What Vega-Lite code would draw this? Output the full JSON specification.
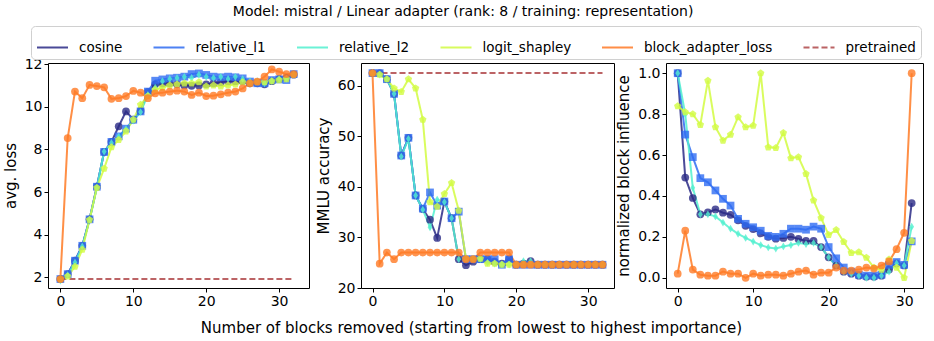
{
"$schema":"https://vega.github.io/schema/vega-lite/v6.json",
"padding":{"left":2,"top":4,"right":5,"bottom":5},
"title":{"text":"Model: mistral / Linear adapter (rank: 8 / training: representation)","fontSize":14,"fontWeight":"normal","font":"DejaVu Sans","color":"black","anchor":"middle","offset":7,"dx":0},
"datasets":{
"loss":[
{"series":"cosine","x":0,"y":1.92},{"series":"cosine","x":1,"y":2.15},{"series":"cosine","x":2,"y":2.78},{"series":"cosine","x":3,"y":3.48},{"series":"cosine","x":4,"y":4.72},{"series":"cosine","x":5,"y":6.25},{"series":"cosine","x":6,"y":7.88},{"series":"cosine","x":7,"y":8.35},{"series":"cosine","x":8,"y":9.08},{"series":"cosine","x":9,"y":9.78},{"series":"cosine","x":10,"y":9.4},{"series":"cosine","x":11,"y":9.8},{"series":"cosine","x":12,"y":10.7},{"series":"cosine","x":13,"y":11.05},{"series":"cosine","x":14,"y":11.1},{"series":"cosine","x":15,"y":11.1},{"series":"cosine","x":16,"y":11.05},{"series":"cosine","x":17,"y":11.0},{"series":"cosine","x":18,"y":10.98},{"series":"cosine","x":19,"y":11.0},{"series":"cosine","x":20,"y":11.05},{"series":"cosine","x":21,"y":11.1},{"series":"cosine","x":22,"y":11.15},{"series":"cosine","x":23,"y":11.2},{"series":"cosine","x":24,"y":11.2},{"series":"cosine","x":25,"y":11.2},{"series":"cosine","x":26,"y":11.1},{"series":"cosine","x":27,"y":11.1},{"series":"cosine","x":28,"y":11.05},{"series":"cosine","x":29,"y":11.2},{"series":"cosine","x":30,"y":11.3},{"series":"cosine","x":31,"y":11.35},{"series":"cosine","x":32,"y":11.5},
{"series":"relative_l1","x":0,"y":1.92},{"series":"relative_l1","x":1,"y":2.15},{"series":"relative_l1","x":2,"y":2.78},{"series":"relative_l1","x":3,"y":3.48},{"series":"relative_l1","x":4,"y":4.72},{"series":"relative_l1","x":5,"y":6.25},{"series":"relative_l1","x":6,"y":7.88},{"series":"relative_l1","x":7,"y":8.35},{"series":"relative_l1","x":8,"y":8.61},{"series":"relative_l1","x":9,"y":8.97},{"series":"relative_l1","x":10,"y":9.39},{"series":"relative_l1","x":11,"y":9.78},{"series":"relative_l1","x":12,"y":10.71},{"series":"relative_l1","x":13,"y":11.22},{"series":"relative_l1","x":14,"y":11.28},{"series":"relative_l1","x":15,"y":11.33},{"series":"relative_l1","x":16,"y":11.36},{"series":"relative_l1","x":17,"y":11.41},{"series":"relative_l1","x":18,"y":11.53},{"series":"relative_l1","x":19,"y":11.56},{"series":"relative_l1","x":20,"y":11.49},{"series":"relative_l1","x":21,"y":11.41},{"series":"relative_l1","x":22,"y":11.38},{"series":"relative_l1","x":23,"y":11.41},{"series":"relative_l1","x":24,"y":11.38},{"series":"relative_l1","x":25,"y":11.33},{"series":"relative_l1","x":26,"y":11.18},{"series":"relative_l1","x":27,"y":11.1},{"series":"relative_l1","x":28,"y":11.1},{"series":"relative_l1","x":29,"y":11.25},{"series":"relative_l1","x":30,"y":11.28},{"series":"relative_l1","x":31,"y":11.25},{"series":"relative_l1","x":32,"y":11.53},
{"series":"relative_l2","x":0,"y":1.85},{"series":"relative_l2","x":1,"y":2.1},{"series":"relative_l2","x":2,"y":2.7},{"series":"relative_l2","x":3,"y":3.45},{"series":"relative_l2","x":4,"y":4.7},{"series":"relative_l2","x":5,"y":6.2},{"series":"relative_l2","x":6,"y":7.9},{"series":"relative_l2","x":7,"y":8.3},{"series":"relative_l2","x":8,"y":8.6},{"series":"relative_l2","x":9,"y":8.95},{"series":"relative_l2","x":10,"y":9.35},{"series":"relative_l2","x":11,"y":9.75},{"series":"relative_l2","x":12,"y":10.55},{"series":"relative_l2","x":13,"y":10.9},{"series":"relative_l2","x":14,"y":11.2},{"series":"relative_l2","x":15,"y":11.3},{"series":"relative_l2","x":16,"y":11.35},{"series":"relative_l2","x":17,"y":11.4},{"series":"relative_l2","x":18,"y":11.35},{"series":"relative_l2","x":19,"y":11.5},{"series":"relative_l2","x":20,"y":11.4},{"series":"relative_l2","x":21,"y":11.35},{"series":"relative_l2","x":22,"y":11.4},{"series":"relative_l2","x":23,"y":11.3},{"series":"relative_l2","x":24,"y":11.4},{"series":"relative_l2","x":25,"y":11.3},{"series":"relative_l2","x":26,"y":11.2},{"series":"relative_l2","x":27,"y":11.2},{"series":"relative_l2","x":28,"y":11.1},{"series":"relative_l2","x":29,"y":11.2},{"series":"relative_l2","x":30,"y":11.3},{"series":"relative_l2","x":31,"y":11.3},{"series":"relative_l2","x":32,"y":11.5},
{"series":"logit_shapley","x":0,"y":1.92},{"series":"logit_shapley","x":1,"y":2.05},{"series":"logit_shapley","x":2,"y":2.5},{"series":"logit_shapley","x":3,"y":3.3},{"series":"logit_shapley","x":4,"y":4.7},{"series":"logit_shapley","x":5,"y":6.2},{"series":"logit_shapley","x":6,"y":7.1},{"series":"logit_shapley","x":7,"y":8.1},{"series":"logit_shapley","x":8,"y":8.45},{"series":"logit_shapley","x":9,"y":8.85},{"series":"logit_shapley","x":10,"y":9.4},{"series":"logit_shapley","x":11,"y":10.1},{"series":"logit_shapley","x":12,"y":10.5},{"series":"logit_shapley","x":13,"y":10.8},{"series":"logit_shapley","x":14,"y":10.9},{"series":"logit_shapley","x":15,"y":11.0},{"series":"logit_shapley","x":16,"y":11.05},{"series":"logit_shapley","x":17,"y":11.1},{"series":"logit_shapley","x":18,"y":11.1},{"series":"logit_shapley","x":19,"y":11.15},{"series":"logit_shapley","x":20,"y":10.95},{"series":"logit_shapley","x":21,"y":11.0},{"series":"logit_shapley","x":22,"y":10.95},{"series":"logit_shapley","x":23,"y":11.0},{"series":"logit_shapley","x":24,"y":11.05},{"series":"logit_shapley","x":25,"y":11.15},{"series":"logit_shapley","x":26,"y":11.1},{"series":"logit_shapley","x":27,"y":11.15},{"series":"logit_shapley","x":28,"y":11.15},{"series":"logit_shapley","x":29,"y":11.2},{"series":"logit_shapley","x":30,"y":11.25},{"series":"logit_shapley","x":31,"y":11.3},{"series":"logit_shapley","x":32,"y":11.5},
{"series":"block_adapter_loss","x":0,"y":1.92},{"series":"block_adapter_loss","x":1,"y":8.53},{"series":"block_adapter_loss","x":2,"y":10.71},{"series":"block_adapter_loss","x":3,"y":10.4},{"series":"block_adapter_loss","x":4,"y":11.02},{"series":"block_adapter_loss","x":5,"y":10.97},{"series":"block_adapter_loss","x":6,"y":10.91},{"series":"block_adapter_loss","x":7,"y":10.37},{"series":"block_adapter_loss","x":8,"y":10.4},{"series":"block_adapter_loss","x":9,"y":10.5},{"series":"block_adapter_loss","x":10,"y":10.74},{"series":"block_adapter_loss","x":11,"y":10.66},{"series":"block_adapter_loss","x":12,"y":10.4},{"series":"block_adapter_loss","x":13,"y":10.63},{"series":"block_adapter_loss","x":14,"y":10.66},{"series":"block_adapter_loss","x":15,"y":10.71},{"series":"block_adapter_loss","x":16,"y":10.75},{"series":"block_adapter_loss","x":17,"y":10.71},{"series":"block_adapter_loss","x":18,"y":10.55},{"series":"block_adapter_loss","x":19,"y":10.66},{"series":"block_adapter_loss","x":20,"y":10.5},{"series":"block_adapter_loss","x":21,"y":10.52},{"series":"block_adapter_loss","x":22,"y":10.58},{"series":"block_adapter_loss","x":23,"y":10.66},{"series":"block_adapter_loss","x":24,"y":10.71},{"series":"block_adapter_loss","x":25,"y":10.86},{"series":"block_adapter_loss","x":26,"y":11.1},{"series":"block_adapter_loss","x":27,"y":11.18},{"series":"block_adapter_loss","x":28,"y":11.41},{"series":"block_adapter_loss","x":29,"y":11.75},{"series":"block_adapter_loss","x":30,"y":11.64},{"series":"block_adapter_loss","x":31,"y":11.53},{"series":"block_adapter_loss","x":32,"y":11.53},
{"series":"pretrained","x":0,"y":1.92},{"series":"pretrained","x":32,"y":1.92}
],
"mmlu":[
{"series":"cosine","x":0,"y":62.5},{"series":"cosine","x":1,"y":62.5},{"series":"cosine","x":2,"y":61.3},{"series":"cosine","x":3,"y":58.4},{"series":"cosine","x":4,"y":46.2},{"series":"cosine","x":5,"y":49.7},{"series":"cosine","x":6,"y":38.3},{"series":"cosine","x":7,"y":35.6},{"series":"cosine","x":8,"y":33.5},{"series":"cosine","x":9,"y":29.9},{"series":"cosine","x":10,"y":37.1},{"series":"cosine","x":11,"y":33.8},{"series":"cosine","x":12,"y":25.7},{"series":"cosine","x":13,"y":24.5},{"series":"cosine","x":14,"y":25.2},{"series":"cosine","x":15,"y":25.7},{"series":"cosine","x":16,"y":25.7},{"series":"cosine","x":17,"y":25.2},{"series":"cosine","x":18,"y":24.8},{"series":"cosine","x":19,"y":25.7},{"series":"cosine","x":20,"y":24.6},{"series":"cosine","x":21,"y":24.8},{"series":"cosine","x":22,"y":25.3},{"series":"cosine","x":23,"y":24.6},{"series":"cosine","x":24,"y":24.6},{"series":"cosine","x":25,"y":24.6},{"series":"cosine","x":26,"y":24.6},{"series":"cosine","x":27,"y":24.6},{"series":"cosine","x":28,"y":24.6},{"series":"cosine","x":29,"y":24.6},{"series":"cosine","x":30,"y":24.6},{"series":"cosine","x":31,"y":24.6},{"series":"cosine","x":32,"y":24.6},
{"series":"relative_l1","x":0,"y":62.5},{"series":"relative_l1","x":1,"y":62.5},{"series":"relative_l1","x":2,"y":61.3},{"series":"relative_l1","x":3,"y":58.4},{"series":"relative_l1","x":4,"y":46.2},{"series":"relative_l1","x":5,"y":49.7},{"series":"relative_l1","x":6,"y":38.3},{"series":"relative_l1","x":7,"y":35.7},{"series":"relative_l1","x":8,"y":38.9},{"series":"relative_l1","x":9,"y":36.3},{"series":"relative_l1","x":10,"y":37.1},{"series":"relative_l1","x":11,"y":33.8},{"series":"relative_l1","x":12,"y":35.1},{"series":"relative_l1","x":13,"y":25.7},{"series":"relative_l1","x":14,"y":25.7},{"series":"relative_l1","x":15,"y":25.7},{"series":"relative_l1","x":16,"y":25.7},{"series":"relative_l1","x":17,"y":25.7},{"series":"relative_l1","x":18,"y":24.6},{"series":"relative_l1","x":19,"y":25.7},{"series":"relative_l1","x":20,"y":24.6},{"series":"relative_l1","x":21,"y":24.6},{"series":"relative_l1","x":22,"y":24.6},{"series":"relative_l1","x":23,"y":24.6},{"series":"relative_l1","x":24,"y":24.6},{"series":"relative_l1","x":25,"y":24.6},{"series":"relative_l1","x":26,"y":24.6},{"series":"relative_l1","x":27,"y":24.6},{"series":"relative_l1","x":28,"y":24.6},{"series":"relative_l1","x":29,"y":24.6},{"series":"relative_l1","x":30,"y":24.6},{"series":"relative_l1","x":31,"y":24.6},{"series":"relative_l1","x":32,"y":24.6},
{"series":"relative_l2","x":0,"y":62.5},{"series":"relative_l2","x":1,"y":62.2},{"series":"relative_l2","x":2,"y":61.3},{"series":"relative_l2","x":3,"y":58.4},{"series":"relative_l2","x":4,"y":46.0},{"series":"relative_l2","x":5,"y":49.5},{"series":"relative_l2","x":6,"y":38.3},{"series":"relative_l2","x":7,"y":35.5},{"series":"relative_l2","x":8,"y":32.0},{"series":"relative_l2","x":9,"y":37.5},{"series":"relative_l2","x":10,"y":37.0},{"series":"relative_l2","x":11,"y":33.8},{"series":"relative_l2","x":12,"y":25.7},{"series":"relative_l2","x":13,"y":25.7},{"series":"relative_l2","x":14,"y":25.7},{"series":"relative_l2","x":15,"y":25.7},{"series":"relative_l2","x":16,"y":25.0},{"series":"relative_l2","x":17,"y":24.8},{"series":"relative_l2","x":18,"y":24.6},{"series":"relative_l2","x":19,"y":24.6},{"series":"relative_l2","x":20,"y":24.6},{"series":"relative_l2","x":21,"y":25.3},{"series":"relative_l2","x":22,"y":25.3},{"series":"relative_l2","x":23,"y":24.6},{"series":"relative_l2","x":24,"y":24.6},{"series":"relative_l2","x":25,"y":24.6},{"series":"relative_l2","x":26,"y":24.6},{"series":"relative_l2","x":27,"y":24.6},{"series":"relative_l2","x":28,"y":24.6},{"series":"relative_l2","x":29,"y":24.6},{"series":"relative_l2","x":30,"y":24.6},{"series":"relative_l2","x":31,"y":24.6},{"series":"relative_l2","x":32,"y":24.6},
{"series":"logit_shapley","x":0,"y":62.5},{"series":"logit_shapley","x":1,"y":62.2},{"series":"logit_shapley","x":2,"y":61.3},{"series":"logit_shapley","x":3,"y":59.5},{"series":"logit_shapley","x":4,"y":58.8},{"series":"logit_shapley","x":5,"y":61.3},{"series":"logit_shapley","x":6,"y":59.5},{"series":"logit_shapley","x":7,"y":53.3},{"series":"logit_shapley","x":8,"y":37.0},{"series":"logit_shapley","x":9,"y":36.1},{"series":"logit_shapley","x":10,"y":38.6},{"series":"logit_shapley","x":11,"y":40.8},{"series":"logit_shapley","x":12,"y":35.3},{"series":"logit_shapley","x":13,"y":25.8},{"series":"logit_shapley","x":14,"y":25.7},{"series":"logit_shapley","x":15,"y":25.8},{"series":"logit_shapley","x":16,"y":24.8},{"series":"logit_shapley","x":17,"y":24.8},{"series":"logit_shapley","x":18,"y":24.6},{"series":"logit_shapley","x":19,"y":24.6},{"series":"logit_shapley","x":20,"y":24.6},{"series":"logit_shapley","x":21,"y":24.6},{"series":"logit_shapley","x":22,"y":24.6},{"series":"logit_shapley","x":23,"y":24.6},{"series":"logit_shapley","x":24,"y":24.6},{"series":"logit_shapley","x":25,"y":24.6},{"series":"logit_shapley","x":26,"y":24.6},{"series":"logit_shapley","x":27,"y":24.6},{"series":"logit_shapley","x":28,"y":24.6},{"series":"logit_shapley","x":29,"y":24.6},{"series":"logit_shapley","x":30,"y":24.6},{"series":"logit_shapley","x":31,"y":24.6},{"series":"logit_shapley","x":32,"y":24.6},
{"series":"block_adapter_loss","x":0,"y":62.5},{"series":"block_adapter_loss","x":1,"y":24.8},{"series":"block_adapter_loss","x":2,"y":27.0},{"series":"block_adapter_loss","x":3,"y":25.7},{"series":"block_adapter_loss","x":4,"y":27.0},{"series":"block_adapter_loss","x":5,"y":27.0},{"series":"block_adapter_loss","x":6,"y":27.0},{"series":"block_adapter_loss","x":7,"y":27.0},{"series":"block_adapter_loss","x":8,"y":27.0},{"series":"block_adapter_loss","x":9,"y":27.0},{"series":"block_adapter_loss","x":10,"y":27.0},{"series":"block_adapter_loss","x":11,"y":27.0},{"series":"block_adapter_loss","x":12,"y":27.0},{"series":"block_adapter_loss","x":13,"y":25.7},{"series":"block_adapter_loss","x":14,"y":25.7},{"series":"block_adapter_loss","x":15,"y":27.0},{"series":"block_adapter_loss","x":16,"y":27.0},{"series":"block_adapter_loss","x":17,"y":27.0},{"series":"block_adapter_loss","x":18,"y":27.0},{"series":"block_adapter_loss","x":19,"y":27.0},{"series":"block_adapter_loss","x":20,"y":24.6},{"series":"block_adapter_loss","x":21,"y":24.6},{"series":"block_adapter_loss","x":22,"y":24.6},{"series":"block_adapter_loss","x":23,"y":24.6},{"series":"block_adapter_loss","x":24,"y":24.6},{"series":"block_adapter_loss","x":25,"y":24.6},{"series":"block_adapter_loss","x":26,"y":24.6},{"series":"block_adapter_loss","x":27,"y":24.6},{"series":"block_adapter_loss","x":28,"y":24.6},{"series":"block_adapter_loss","x":29,"y":24.6},{"series":"block_adapter_loss","x":30,"y":24.6},{"series":"block_adapter_loss","x":31,"y":24.6},{"series":"block_adapter_loss","x":32,"y":24.6},
{"series":"pretrained","x":0,"y":62.5},{"series":"pretrained","x":32,"y":62.5}
],
"infl":[
{"series":"cosine","x":0,"y":1.0},{"series":"cosine","x":1,"y":0.49},{"series":"cosine","x":2,"y":0.39},{"series":"cosine","x":3,"y":0.31},{"series":"cosine","x":4,"y":0.32},{"series":"cosine","x":5,"y":0.334},{"series":"cosine","x":6,"y":0.318},{"series":"cosine","x":7,"y":0.308},{"series":"cosine","x":8,"y":0.281},{"series":"cosine","x":9,"y":0.254},{"series":"cosine","x":10,"y":0.238},{"series":"cosine","x":11,"y":0.217},{"series":"cosine","x":12,"y":0.2},{"series":"cosine","x":13,"y":0.191},{"series":"cosine","x":14,"y":0.195},{"series":"cosine","x":15,"y":0.2},{"series":"cosine","x":16,"y":0.19},{"series":"cosine","x":17,"y":0.18},{"series":"cosine","x":18,"y":0.18},{"series":"cosine","x":19,"y":0.15},{"series":"cosine","x":20,"y":0.1},{"series":"cosine","x":21,"y":0.06},{"series":"cosine","x":22,"y":0.03},{"series":"cosine","x":23,"y":0.02},{"series":"cosine","x":24,"y":0.01},{"series":"cosine","x":25,"y":0.005},{"series":"cosine","x":26,"y":0.005},{"series":"cosine","x":27,"y":0.01},{"series":"cosine","x":28,"y":0.04},{"series":"cosine","x":29,"y":0.07},{"series":"cosine","x":30,"y":0.06},{"series":"cosine","x":31,"y":0.365},
{"series":"relative_l1","x":0,"y":1.0},{"series":"relative_l1","x":1,"y":0.70},{"series":"relative_l1","x":2,"y":0.59},{"series":"relative_l1","x":3,"y":0.487},{"series":"relative_l1","x":4,"y":0.467},{"series":"relative_l1","x":5,"y":0.427},{"series":"relative_l1","x":6,"y":0.386},{"series":"relative_l1","x":7,"y":0.353},{"series":"relative_l1","x":8,"y":0.288},{"series":"relative_l1","x":9,"y":0.264},{"series":"relative_l1","x":10,"y":0.247},{"series":"relative_l1","x":11,"y":0.23},{"series":"relative_l1","x":12,"y":0.205},{"series":"relative_l1","x":13,"y":0.2},{"series":"relative_l1","x":14,"y":0.215},{"series":"relative_l1","x":15,"y":0.24},{"series":"relative_l1","x":16,"y":0.24},{"series":"relative_l1","x":17,"y":0.235},{"series":"relative_l1","x":18,"y":0.25},{"series":"relative_l1","x":19,"y":0.24},{"series":"relative_l1","x":20,"y":0.15},{"series":"relative_l1","x":21,"y":0.095},{"series":"relative_l1","x":22,"y":0.05},{"series":"relative_l1","x":23,"y":0.03},{"series":"relative_l1","x":24,"y":0.015},{"series":"relative_l1","x":25,"y":0.01},{"series":"relative_l1","x":26,"y":0.01},{"series":"relative_l1","x":27,"y":0.015},{"series":"relative_l1","x":28,"y":0.063},{"series":"relative_l1","x":29,"y":0.077},{"series":"relative_l1","x":30,"y":0.063},{"series":"relative_l1","x":31,"y":0.178},
{"series":"relative_l2","x":0,"y":1.0},{"series":"relative_l2","x":1,"y":0.8},{"series":"relative_l2","x":2,"y":0.44},{"series":"relative_l2","x":3,"y":0.31},{"series":"relative_l2","x":4,"y":0.31},{"series":"relative_l2","x":5,"y":0.3},{"series":"relative_l2","x":6,"y":0.27},{"series":"relative_l2","x":7,"y":0.24},{"series":"relative_l2","x":8,"y":0.215},{"series":"relative_l2","x":9,"y":0.195},{"series":"relative_l2","x":10,"y":0.177},{"series":"relative_l2","x":11,"y":0.16},{"series":"relative_l2","x":12,"y":0.148},{"series":"relative_l2","x":13,"y":0.143},{"series":"relative_l2","x":14,"y":0.153},{"series":"relative_l2","x":15,"y":0.16},{"series":"relative_l2","x":16,"y":0.17},{"series":"relative_l2","x":17,"y":0.165},{"series":"relative_l2","x":18,"y":0.17},{"series":"relative_l2","x":19,"y":0.15},{"series":"relative_l2","x":20,"y":0.1},{"series":"relative_l2","x":21,"y":0.06},{"series":"relative_l2","x":22,"y":0.03},{"series":"relative_l2","x":23,"y":0.02},{"series":"relative_l2","x":24,"y":0.01},{"series":"relative_l2","x":25,"y":0.0},{"series":"relative_l2","x":26,"y":0.0},{"series":"relative_l2","x":27,"y":0.01},{"series":"relative_l2","x":28,"y":0.03},{"series":"relative_l2","x":29,"y":0.07},{"series":"relative_l2","x":30,"y":0.06},{"series":"relative_l2","x":31,"y":0.25},
{"series":"logit_shapley","x":0,"y":0.839},{"series":"logit_shapley","x":1,"y":0.81},{"series":"logit_shapley","x":2,"y":0.80},{"series":"logit_shapley","x":3,"y":0.748},{"series":"logit_shapley","x":4,"y":0.964},{"series":"logit_shapley","x":5,"y":0.736},{"series":"logit_shapley","x":6,"y":0.671},{"series":"logit_shapley","x":7,"y":0.70},{"series":"logit_shapley","x":8,"y":0.785},{"series":"logit_shapley","x":9,"y":0.736},{"series":"logit_shapley","x":10,"y":0.744},{"series":"logit_shapley","x":11,"y":1.0},{"series":"logit_shapley","x":12,"y":0.638},{"series":"logit_shapley","x":13,"y":0.635},{"series":"logit_shapley","x":14,"y":0.708},{"series":"logit_shapley","x":15,"y":0.585},{"series":"logit_shapley","x":16,"y":0.59},{"series":"logit_shapley","x":17,"y":0.508},{"series":"logit_shapley","x":18,"y":0.378},{"series":"logit_shapley","x":19,"y":0.292},{"series":"logit_shapley","x":20,"y":0.21},{"series":"logit_shapley","x":21,"y":0.234},{"series":"logit_shapley","x":22,"y":0.175},{"series":"logit_shapley","x":23,"y":0.122},{"series":"logit_shapley","x":24,"y":0.125},{"series":"logit_shapley","x":25,"y":0.098},{"series":"logit_shapley","x":26,"y":0.05},{"series":"logit_shapley","x":27,"y":0.04},{"series":"logit_shapley","x":28,"y":0.09},{"series":"logit_shapley","x":29,"y":0.05},{"series":"logit_shapley","x":30,"y":0.0},{"series":"logit_shapley","x":31,"y":0.18},
{"series":"block_adapter_loss","x":0,"y":0.02},{"series":"block_adapter_loss","x":1,"y":0.23},{"series":"block_adapter_loss","x":2,"y":0.04},{"series":"block_adapter_loss","x":3,"y":0.015},{"series":"block_adapter_loss","x":4,"y":0.01},{"series":"block_adapter_loss","x":5,"y":0.01},{"series":"block_adapter_loss","x":6,"y":0.03},{"series":"block_adapter_loss","x":7,"y":0.02},{"series":"block_adapter_loss","x":8,"y":0.02},{"series":"block_adapter_loss","x":9,"y":0.0},{"series":"block_adapter_loss","x":10,"y":0.02},{"series":"block_adapter_loss","x":11,"y":0.01},{"series":"block_adapter_loss","x":12,"y":0.015},{"series":"block_adapter_loss","x":13,"y":0.015},{"series":"block_adapter_loss","x":14,"y":0.01},{"series":"block_adapter_loss","x":15,"y":0.02},{"series":"block_adapter_loss","x":16,"y":0.03},{"series":"block_adapter_loss","x":17,"y":0.035},{"series":"block_adapter_loss","x":18,"y":0.015},{"series":"block_adapter_loss","x":19,"y":0.025},{"series":"block_adapter_loss","x":20,"y":0.025},{"series":"block_adapter_loss","x":21,"y":0.05},{"series":"block_adapter_loss","x":22,"y":0.035},{"series":"block_adapter_loss","x":23,"y":0.035},{"series":"block_adapter_loss","x":24,"y":0.04},{"series":"block_adapter_loss","x":25,"y":0.05},{"series":"block_adapter_loss","x":26,"y":0.045},{"series":"block_adapter_loss","x":27,"y":0.06},{"series":"block_adapter_loss","x":28,"y":0.08},{"series":"block_adapter_loss","x":29,"y":0.14},{"series":"block_adapter_loss","x":30,"y":0.22},{"series":"block_adapter_loss","x":31,"y":1.0}
]
},
"spacing":52,
"bounds":"flush",
"resolve":{"scale":{"color":"shared","shape":"shared","strokeDash":"shared"}},
"hconcat":[
{
"width":261,"height":225,
"data":{"name":"loss"},
"layer":[
{"mark":{"type":"line","strokeWidth":2,"opacity":0.85},
"encoding":{
"x":{"field":"x","type":"quantitative","scale":{"domain":[-1.7,34.1],"nice":false,"zero":false},"axis":{"values":[0,10,20,30],"title":null}},
"y":{"field":"y","type":"quantitative","scale":{"domain":[1.5,12.05],"nice":false,"zero":false},"axis":{"values":[2,4,6,8,10,12],"title":"avg. loss"}},
"color":{"field":"series","type":"nominal","scale":{"domain":["cosine","relative_l1","relative_l2","logit_shapley","block_adapter_loss","pretrained"],"range":["#2a2a86","#2f6df2","#52f0cf","#d2fb42","#ff7b26","#b0484a"]},
"legend":{"orient":"none","legendX":-17,"legendY":-37,"direction":"horizontal","columns":6,"title":null,"symbolType":"M-1,0H1","symbolSize":961,"symbolStrokeWidth":2,"labelFontSize":13.5,"labelFont":"DejaVu Sans","labelColor":"black","labelOffset":10,"columnPadding":26.5,"padding":5,"strokeColor":"#d0d0d0","cornerRadius":4,"fillColor":"white",
"encode":{"symbols":{"update":{"shape":{"signal":"datum.value === 'pretrained' ? 'M-1,0H1' : 'M-1,0H1M-0.22,0a0.22,0.22 0 1,0 0.44,0a0.22,0.22 0 1,0 -0.44,0'"},"fill":[{"test":"datum.value === 'pretrained'","value":"transparent"},{"scale":"color","field":"value"}],"strokeDash":[{"test":"datum.value === 'pretrained'","value":[5,3]},{"value":[1,0]}],"opacity":{"value":0.85}}}}}},
"strokeDash":{"field":"series","type":"nominal","scale":{"domain":["cosine","relative_l1","relative_l2","logit_shapley","block_adapter_loss","pretrained"],"range":[[1,0],[1,0],[1,0],[1,0],[1,0],[6,3]]},"legend":null}
}},
{"transform":[{"filter":"datum.series !== 'pretrained'"}],
"mark":{"type":"point","filled":true,"opacity":0.8,"size":60},
"encoding":{
"x":{"field":"x","type":"quantitative"},
"y":{"field":"y","type":"quantitative"},
"color":{"field":"series","type":"nominal","legend":null},
"shape":{"field":"series","type":"nominal","scale":{"domain":["cosine","relative_l1","relative_l2","logit_shapley","block_adapter_loss"],"range":["circle","square","M0,-1L0.62,0L0,1L-0.62,0Z","M0,-1L0.951,-0.309L0.588,0.809L-0.588,0.809L-0.951,-0.309Z","circle"]},"legend":null}
}}
]
},
{
"width":253,"height":225,
"data":{"name":"mmlu"},
"layer":[
{"mark":{"type":"line","strokeWidth":2,"opacity":0.85},
"encoding":{
"x":{"field":"x","type":"quantitative","scale":{"domain":[-1.6,33.6],"nice":false,"zero":false},"axis":{"values":[0,10,20,30],"title":"Number of blocks removed (starting from lowest to highest importance)","titleX":110,"titlePadding":12}},
"y":{"field":"y","type":"quantitative","scale":{"domain":[20,64.5],"nice":false,"zero":false},"axis":{"values":[20,30,40,50,60],"title":"MMLU accuracy"}},
"color":{"field":"series","type":"nominal"},
"strokeDash":{"field":"series","type":"nominal","legend":null}
}},
{"transform":[{"filter":"datum.series !== 'pretrained'"}],
"mark":{"type":"point","filled":true,"opacity":0.8,"size":60},
"encoding":{
"x":{"field":"x","type":"quantitative"},
"y":{"field":"y","type":"quantitative"},
"color":{"field":"series","type":"nominal","legend":null},
"shape":{"field":"series","type":"nominal","legend":null}
}}
]
},
{
"width":257,"height":225,
"data":{"name":"infl"},
"layer":[
{"mark":{"type":"line","strokeWidth":2,"opacity":0.85},
"encoding":{
"x":{"field":"x","type":"quantitative","scale":{"domain":[-1.55,32.5],"nice":false,"zero":false},"axis":{"values":[0,10,20,30],"title":null}},
"y":{"field":"y","type":"quantitative","scale":{"domain":[-0.05,1.05],"nice":false,"zero":false},"axis":{"values":[0,0.2,0.4,0.6,0.8,1.0],"format":".1f","title":"normalized block influence"}},
"color":{"field":"series","type":"nominal"}
}},
{"mark":{"type":"point","filled":true,"opacity":0.8,"size":60},
"encoding":{
"x":{"field":"x","type":"quantitative"},
"y":{"field":"y","type":"quantitative"},
"color":{"field":"series","type":"nominal","legend":null},
"shape":{"field":"series","type":"nominal","legend":null}
}}
]
}
],
"config":{
"font":"DejaVu Sans",
"view":{"stroke":"black","strokeWidth":1},
"axis":{"grid":false,"domain":false,"labelFontSize":14,"labelColor":"black","titleFontSize":15,"titleFontWeight":"normal","titleColor":"black","tickColor":"black","tickSize":4,"labelFont":"DejaVu Sans","titleFont":"DejaVu Sans"},
"axisY":{"titlePadding":6}
}
}
